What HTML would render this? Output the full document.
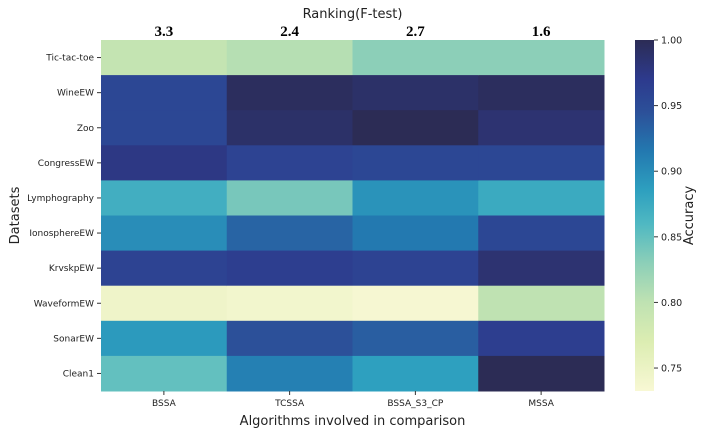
<!DOCTYPE html>
<html><head><meta charset="utf-8"><style>
body{margin:0;background:#fff;font-family:"DejaVu Sans","Liberation Sans",sans-serif;}
</style></head><body>
<svg id="chart" width="702" height="439" xmlns="http://www.w3.org/2000/svg">
<defs><linearGradient id="cb" x1="0" y1="1" x2="0" y2="0"></linearGradient></defs>
<g id="cells"></g>
<g id="axes"></g>
</svg>
<script>
const datasets=["Tic-tac-toe","WineEW","Zoo","CongressEW","Lymphography","IonosphereEW","KrvskpEW","WaveformEW","SonarEW","Clean1"];
const algorithms=["BSSA","TCSSA","BSSA_S3_CP","MSSA"];
const rankings=["3.3","2.4","2.7","1.6"];
const accBSSA=[0.795,0.955,0.955,0.975,0.870,0.900,0.960,0.745,0.890,0.850];
const accTCSSA=[0.805,0.995,0.990,0.960,0.840,0.930,0.965,0.740,0.945,0.910];
const accS3CP=[0.830,0.990,1.000,0.955,0.895,0.915,0.960,0.735,0.935,0.885];
const accMSSA=[0.830,0.995,0.985,0.955,0.875,0.955,0.985,0.800,0.965,1.000];
const cbTicks=[0.75,0.80,0.85,0.90,0.95,1.00];
const series=[accBSSA,accTCSSA,accS3CP,accMSSA];
const vmin=0.7325,vmax=1.0;
const stops=[[0.7325,"#f8f8d4"],[0.77,"#dcedb2"],[0.80,"#bfe2b2"],[0.83,"#8ccfb8"],[0.86,"#4fb8c2"],[0.885,"#2ea0bf"],[0.915,"#2379b0"],[0.945,"#2c5099"],[0.97,"#2d3a8d"],[1.0,"#2c2c55"]];
function hex(c){return [1,3,5].map(i=>parseInt(c.substr(i,2),16));}
function color(v){v=Math.max(vmin,Math.min(vmax,v));for(let i=1;i<stops.length;i++){if(v<=stops[i][0]){const a=stops[i-1],b=stops[i];const t=(v-a[0])/(b[0]-a[0]);const ca=hex(a[1]),cbb=hex(b[1]);return "rgb("+ca.map((x,k)=>Math.round(x+(cbb[k]-x)*t)).join(",")+")";}}return stops[stops.length-1][1];}
const L=101,T=40,R=604,B=391;
const cw=(R-L)/algorithms.length,rh=(B-T)/datasets.length;
const xPos=i=>L+i*cw, yPos=j=>T+j*rh;
const NS="http://www.w3.org/2000/svg";
const svg=document.getElementById("chart"),cells=document.getElementById("cells"),axes=document.getElementById("axes");
function mk(tag,attrs,parent,txt){const e=document.createElementNS(NS,tag);for(const k in attrs)e.setAttribute(k,attrs[k]);if(txt!==undefined)e.textContent=txt;parent.appendChild(e);return e;}
series.forEach((s,i)=>s.forEach((v,j)=>{
 const r=mk("rect",{x:xPos(i),y:yPos(j),width:cw+0.5,height:rh+0.5,fill:color(v)},cells);
 
 
}));
datasets.forEach((d,j)=>{
 const y=yPos(j)+rh/2;
 mk("line",{x1:L-4,x2:L,y1:y,y2:y,stroke:"#333"},axes);
 const t=mk("text",{x:L-7,y:y+3,"text-anchor":"end","font-size":"9",fill:"#222"},axes,d);
 
 
});
algorithms.forEach((a,i)=>{
 const x=xPos(i)+cw/2;
 mk("line",{x1:x,x2:x,y1:B,y2:B+4,stroke:"#333"},axes);
 const t=mk("text",{x:x,y:B+15,"text-anchor":"middle","font-size":"9",fill:"#222"},axes,a);
 
 
 const r=mk("text",{x:x,y:36,"text-anchor":"middle","font-size":"15","font-weight":"bold","font-family":"Liberation Serif,serif",fill:"#000"},axes,rankings[i]);
 
 
});
let t;
t=mk("text",{x:(L+R)/2,y:18,"text-anchor":"middle","font-size":"13",fill:"#222"},axes,"Ranking(F-test)");

t=mk("text",{x:(L+R)/2,y:425,"text-anchor":"middle","font-size":"13",fill:"#222"},axes,"Algorithms involved in comparison");

t=mk("text",{x:0,y:0,"text-anchor":"middle","font-size":"13",fill:"#222",transform:"translate(19,"+((T+B)/2)+") rotate(-90)"},axes,"Datasets");

const cbL=635,cbW=19;
const cbY=v=>B-(v-vmin)/(vmax-vmin)*(B-T);
const g=document.getElementById("cb");
stops.forEach(s=>{mk("stop",{offset:((s[0]-vmin)/(vmax-vmin)),"stop-color":s[1]},g);});
const cbr=mk("rect",{x:cbL,y:T,width:cbW,height:B-T,fill:"url(#cb)"},axes);

cbTicks.forEach(v=>{
 const y=cbY(v);
 mk("line",{x1:cbL+cbW,x2:cbL+cbW+4,y1:y,y2:y,stroke:"#333"},axes);
 const tt=mk("text",{x:cbL+cbW+7,y:y+3.5,"font-size":"9.5",fill:"#222"},axes,v.toFixed(2));
 
});
t=mk("text",{x:0,y:0,"text-anchor":"middle","font-size":"13",fill:"#222",transform:"translate(693,"+((T+B)/2)+") rotate(-90)"},axes,"Accuracy");

</script>
</body></html>
